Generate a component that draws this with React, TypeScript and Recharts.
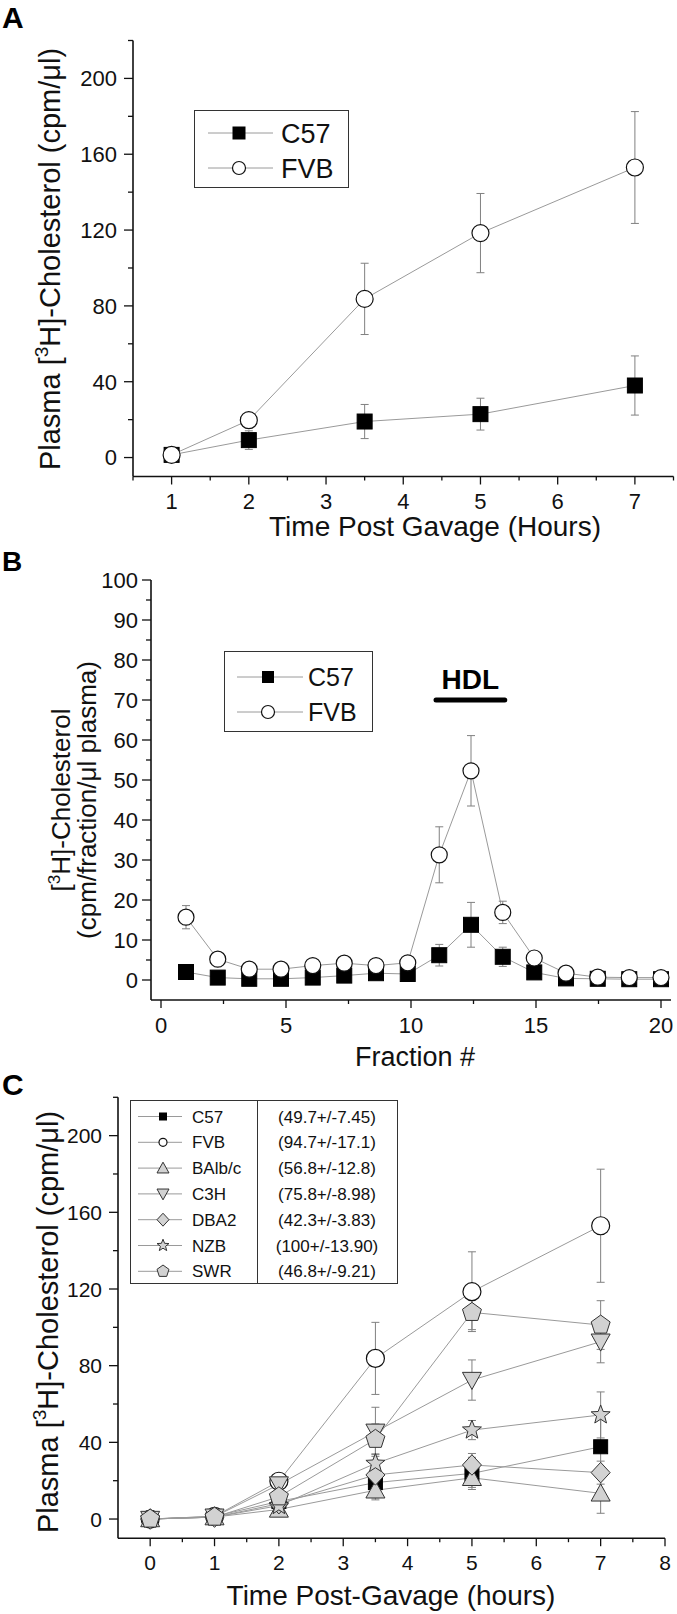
import React from "react";
import { LineChart, Line, XAxis, YAxis, ErrorBar, Legend, ReferenceLine } from "recharts";

const FONT = "'Liberation Sans', Arial, Helvetica, sans-serif";
const INK = "#111";
const LINE_GRAY = "#9a9a9a";
const BAR_GRAY = "#808080";
const MARK_GRAY = "#d2d2d2";

// ---- A: plasma [3H]-cholesterol after gavage, C57 vs FVB
const aHours = [1, 2, 3.5, 5, 7];
const aC57 = [1.4, 9.2, 19, 22.9, 38];
const aC57Err = [1, 4.9, 9, 8.4, 15.6];
const aFVB = [1.4, 19.7, 83.7, 118.4, 153];
const aFVBErr = [1.5, 2, 18.8, 20.9, 29.5];
const aXTicks = [0.5, 1, 1.5, 2, 2.5, 3, 3.5, 4, 4.5, 5, 5.5, 6, 6.5, 7, 7.5];
const aXLabels = [1, 2, 3, 4, 5, 6, 7];
const aYTicks = [0, 20, 40, 60, 80, 100, 120, 140, 160, 180, 200, 220];
const aYLabels = [0, 40, 80, 120, 160, 200];

// ---- B: FPLC fractions
const bFraction = [1, 2.27, 3.53, 4.8, 6.07, 7.33, 8.6, 9.87, 11.13, 12.4, 13.67, 14.93, 16.2, 17.47, 18.73, 20];
const bC57 = [2, 0.6, 0.3, 0.3, 0.6, 1.1, 1.7, 1.5, 6.2, 13.8, 5.8, 1.9, 0.4, 0.3, 0.2, 0.2];
const bC57Err = [0.3, 0.3, 0.3, 0.3, 0.3, 0.3, 0.3, 0.3, 2.7, 5.6, 2.4, 0.4, 0.3, 0.3, 0.3, 0.3];
const bFVB = [15.7, 5.2, 2.7, 2.7, 3.6, 4.2, 3.6, 4.3, 31.3, 52.3, 16.9, 5.5, 1.7, 0.7, 0.6, 0.6];
const bFVBErr = [2.9, 1.4, 1, 1, 1, 1, 1, 1, 7, 8.8, 2.8, 1.3, 0.8, 0.5, 0.5, 0.5];
const bXTicks = [0, 2.5, 5, 7.5, 10, 12.5, 15, 17.5, 20];
const bXLabels = [0, 5, 10, 15, 20];
const bYTicks = [0, 5, 10, 15, 20, 25, 30, 35, 40, 45, 50, 55, 60, 65, 70, 75, 80, 85, 90, 95, 100];
const bYLabels = [0, 10, 20, 30, 40, 50, 60, 70, 80, 90, 100];
const hdlRange = [11, 13.75];
const hdlLevel = 70;

// ---- C: seven strains
const cHours = [0, 1, 2, 3.5, 5, 7];
const cStrains = ["C57", "FVB", "BAlb/c", "C3H", "DBA2", "NZB", "SWR"];
const cMeans = ["(49.7+/-7.45)", "(94.7+/-17.1)", "(56.8+/-12.8)", "(75.8+/-8.98)", "(42.3+/-3.83)", "(100+/-13.90)", "(46.8+/-9.21)"];
const cC57 = [0, 1.4, 9.2, 19, 23.8, 37.7];
const cFVB = [0, 1.4, 19.7, 83.8, 118.6, 153];
const cBalb = [0, 1, 5, 15, 21.5, 13.4];
const cC3H = [0, 1.2, 18, 45.5, 72.5, 92.5];
const cDBA2 = [0, 1, 8, 23, 28.2, 24.2];
const cNZB = [0, 1, 7, 29, 46.4, 54.3];
const cSWR = [0, 1, 11.6, 41.6, 107.8, 101.2];
const cC57Err = [0.5, 1, 4.9, 9, 8.4, 15.6];
const cFVBErr = [0.5, 1.5, 2, 18.8, 20.8, 29.5];
const cBalbErr = [0.5, 0.8, 2, 4, 5, 10.4];
const cC3HErr = [0.5, 1, 3, 12.8, 10.5, 11];
const cDBA2Err = [0.5, 1, 2, 5, 6, 6];
const cNZBErr = [0.5, 1, 2, 5, 5, 12];
const cSWRErr = [0.5, 1, 3, 8, 9, 12.7];
const cXTicks = [0, 0.5, 1, 1.5, 2, 2.5, 3, 3.5, 4, 4.5, 5, 5.5, 6, 6.5, 7, 7.5, 8];
const cXLabels = [0, 1, 2, 3, 4, 5, 6, 7, 8];

type Shape = "square" | "circle" | "triangle" | "triangleDown" | "diamond" | "star" | "pentagon";
interface Mark { shape: Shape; size: number; fill: string; stroke: string; sw: number }

function polyPoints(shape: Shape, cx: number, cy: number, s: number) {
  const r = s / 2;
  if (shape === "triangle" || shape === "triangleDown") {
    const h = s * 0.9;
    const k = shape === "triangle" ? 1 : -1;
    return `${cx},${cy - k * h * 0.55} ${cx + r},${cy + k * h * 0.45} ${cx - r},${cy + k * h * 0.45}`;
  }
  if (shape === "diamond") {
    return `${cx},${cy - r * 1.08} ${cx + r},${cy} ${cx},${cy + r * 1.08} ${cx - r},${cy}`;
  }
  const n = shape === "star" ? 10 : 5;
  const pts: string[] = [];
  for (let i = 0; i < n; i++) {
    const a = -Math.PI / 2 + (i * 2 * Math.PI) / n;
    const rr = shape === "star" && i % 2 ? r * 0.45 : r * 1.05;
    pts.push(`${cx + rr * Math.cos(a)},${cy + rr * Math.sin(a)}`);
  }
  return pts.join(" ");
}

function drawMark(m: Mark, cx: number, cy: number, key?: string | number, size?: number) {
  const s = size ?? m.size;
  if (m.shape === "square")
    return <rect key={key} x={cx - s / 2} y={cy - s / 2} width={s} height={s} fill={m.fill} stroke={m.stroke} strokeWidth={m.sw} />;
  if (m.shape === "circle")
    return <circle key={key} cx={cx} cy={cy} r={s / 2} fill={m.fill} stroke={m.stroke} strokeWidth={m.sw} />;
  return <polygon key={key} points={polyPoints(m.shape, cx, cy, s)} fill={m.fill} stroke={m.stroke} strokeWidth={m.sw} />;
}

const dotOf = (m: Mark) => (p: any) => {
  if (!Number.isFinite(p.cx) || !Number.isFinite(p.cy)) return <g key={`n${p.index}`} />;
  return drawMark(m, p.cx, p.cy, `d${p.index}`);
};

const yTick = (labels: number[], gap: number, fs: number) => (p: any) => {
  const major = labels.includes(p.payload.value);
  return (
    <g>
      <line x1={p.x - (major ? 9 : 5)} x2={p.x} y1={p.y} y2={p.y} stroke={INK} strokeWidth={1.3} />
      {major && (
        <text x={p.x - gap} y={p.y + fs * 0.36} textAnchor="end" fontSize={fs} fontFamily={FONT} fill={INK}>
          {p.payload.value}
        </text>
      )}
    </g>
  );
};

const xTick = (labels: number[], base: number, fs: number) => (p: any) => {
  const major = labels.includes(p.payload.value);
  return (
    <g>
      <line x1={p.x} x2={p.x} y1={p.y} y2={p.y + (major ? 8 : 4)} stroke={INK} strokeWidth={1.3} />
      {major && (
        <text x={p.x} y={p.y + base} textAnchor="middle" fontSize={fs} fontFamily={FONT} fill={INK}>
          {p.payload.value}
        </text>
      )}
    </g>
  );
};

interface LegendRow { label: string; mark: Mark; value?: string }

function LegendBox(props: {
  w: number; h: number; rows: LegendRow[]; y0: number; dy: number;
  line: [number, number]; markX: number; markSize: number[]; textX: number; fs: number;
  divider?: number; valueX?: number;
}) {
  const { w, h, rows, y0, dy, line, markX, markSize, textX, fs, divider, valueX } = props;
  return (
    <svg width={w} height={h} style={{ display: "block" }} fontFamily={FONT}>
      <rect x={0.5} y={0.5} width={w - 1} height={h - 1} fill="#fff" stroke="#333" strokeWidth={1} />
      {divider != null && <line x1={divider} x2={divider} y1={0} y2={h} stroke="#333" strokeWidth={1} />}
      {rows.map((r, i) => {
        const y = y0 + i * dy;
        return (
          <g key={r.label}>
            <line x1={line[0]} x2={line[1]} y1={y} y2={y} stroke={LINE_GRAY} strokeWidth={1} />
            {drawMark(r.mark, markX, y, "m", markSize[i])}
            <text x={textX} y={y + fs * 0.36} fontSize={fs} fill={INK}>{r.label}</text>
            {r.value && valueX != null && (
              <text x={valueX} y={y + fs * 0.36} fontSize={fs} fill={INK} textAnchor="middle">{r.value}</text>
            )}
          </g>
        );
      })}
    </svg>
  );
}

const sqMark: Mark = { shape: "square", size: 15, fill: "#000", stroke: "#000", sw: 1 };
const ciMark: Mark = { shape: "circle", size: 17, fill: "#fff", stroke: "#111", sw: 1.2 };
const grey = (shape: Shape): Mark => ({ shape, size: 19, fill: MARK_GRAY, stroke: "#333", sw: 1 });
const cMarks: Mark[] = [
  { ...sqMark, size: 14 },
  { ...ciMark, size: 18 },
  grey("triangle"),
  grey("triangleDown"),
  grey("diamond"),
  grey("star"),
  grey("pentagon"),
];
const cValues = [cC57, cFVB, cBalb, cC3H, cDBA2, cNZB, cSWR];
const cErrs = [cC57Err, cFVBErr, cBalbErr, cC3HErr, cDBA2Err, cNZBErr, cSWRErr];

const aRows = aHours.map((t, i) => ({ t, c57: aC57[i], c57Err: aC57Err[i], fvb: aFVB[i], fvbErr: aFVBErr[i] }));
const bRows = bFraction.map((t, i) => ({ t, c57: bC57[i], c57Err: bC57Err[i], fvb: bFVB[i], fvbErr: bFVBErr[i] }));
const cRows = cHours.map((t, i) => {
  const row: Record<string, number> = { t };
  cValues.forEach((v, k) => {
    row[`s${k}`] = v[i];
    row[`e${k}`] = cErrs[k][i];
  });
  return row;
});

const axisLine = { stroke: INK, strokeWidth: 1.6 };

function Cholesterol({ x, y, fs }: { x: number; y: number; fs: number }) {
  return (
    <text transform={`translate(${x},${y}) rotate(-90)`} textAnchor="middle" fontSize={fs} fill={INK}>
      Plasma [<tspan fontSize={fs * 0.66} dy={-fs * 0.4}>3</tspan>
      <tspan dy={fs * 0.4}>H]-Cholesterol (cpm/μl)</tspan>
    </text>
  );
}

const overlayStyle: React.CSSProperties = { position: "absolute", left: 0, top: 0, pointerEvents: "none", overflow: "visible" };

const A_TOP = 0, A_H = 545;
const B_TOP = 545, B_H = 530;
const C_TOP = 1065, C_H = 549;

export default function App() {
  return (
    <div style={{ position: "absolute", left: 0, top: 0, width: 677, height: 1614, background: "#fff", fontFamily: FONT }}>
      {/* A */}
      <div style={{ position: "absolute", left: 0, top: A_TOP, width: 677, height: A_H }}>
        <LineChart width={677} height={A_H} data={aRows} margin={{ top: 40.5, right: 3.5, bottom: 28.5, left: 0 }}>
          <XAxis dataKey="t" type="number" domain={[0.5, 7.5]} ticks={aXTicks} interval={0} allowDataOverflow
            height={40} tickSize={0} tickMargin={0} tickLine={false} axisLine={axisLine} tick={xTick(aXLabels, 32, 22)} />
          <YAxis type="number" domain={[-10, 220]} ticks={aYTicks} interval={0} allowDataOverflow
            width={133} tickSize={0} tickMargin={0} tickLine={false} axisLine={axisLine} tick={yTick(aYLabels, 16, 22)} />
          <Line dataKey="c57" stroke={LINE_GRAY} strokeWidth={1} dot={dotOf(sqMark)} activeDot={false} isAnimationActive={false} />
          <Line dataKey="fvb" stroke={LINE_GRAY} strokeWidth={1} dot={dotOf(ciMark)} activeDot={false} isAnimationActive={false} />
          <Line dataKey="c57" name="c57-err" stroke="none" dot={false} activeDot={false} isAnimationActive={false}>
            <ErrorBar dataKey="c57Err" width={4} stroke={BAR_GRAY} strokeWidth={1} direction="y" />
          </Line>
          <Line dataKey="fvb" name="fvb-err" stroke="none" dot={false} activeDot={false} isAnimationActive={false}>
            <ErrorBar dataKey="fvbErr" width={4} stroke={BAR_GRAY} strokeWidth={1} direction="y" />
          </Line>
          <Legend layout="vertical" align="center" verticalAlign="middle"
            wrapperStyle={{ left: 194, top: 110, width: 155, height: 78 }}
            content={() => (
              <LegendBox w={155} h={78} y0={23} dy={35} line={[14, 79]} markX={45} markSize={[12, 13]} textX={87} fs={27}
                rows={[{ label: "C57", mark: sqMark }, { label: "FVB", mark: ciMark }]} />
            )} />
        </LineChart>
        <svg width={677} height={A_H} style={overlayStyle} fontFamily={FONT}>
          <text x={2} y={28} fontSize={30} fontWeight="bold" fill="#000">A</text>
          <Cholesterol x={60} y={259} fs={29} />
          <text x={435} y={536} textAnchor="middle" fontSize={28} fill={INK}>Time Post Gavage (Hours)</text>
        </svg>
      </div>

      {/* B */}
      <div style={{ position: "absolute", left: 0, top: B_TOP, width: 677, height: B_H }}>
        <LineChart width={677} height={B_H} data={bRows} margin={{ top: 35, right: 6, bottom: 35, left: 0 }}>
          <XAxis dataKey="t" type="number" domain={[-0.4, 20.4]} ticks={bXTicks} interval={0} allowDataOverflow
            height={40} tickSize={0} tickMargin={0} tickLine={false} axisLine={axisLine} tick={xTick(bXLabels, 33, 22)} />
          <YAxis type="number" domain={[-5, 100]} ticks={bYTicks} interval={0} allowDataOverflow
            width={151} tickSize={0} tickMargin={0} tickLine={false} axisLine={axisLine} tick={yTick(bYLabels, 13, 22)} />
          <ReferenceLine segment={[{ x: hdlRange[0], y: hdlLevel }, { x: hdlRange[1], y: hdlLevel }]}
            stroke="#000" strokeWidth={5} strokeLinecap="round"
            label={{ value: "HDL", position: "top", offset: 11, fontSize: 28, fontWeight: "bold", fill: "#000", fontFamily: FONT }} />
          <Line dataKey="c57" stroke={LINE_GRAY} strokeWidth={1} dot={dotOf(sqMark)} activeDot={false} isAnimationActive={false} />
          <Line dataKey="fvb" stroke={LINE_GRAY} strokeWidth={1} dot={dotOf({ ...ciMark, size: 16 })} activeDot={false} isAnimationActive={false} />
          <Line dataKey="c57" name="c57-err" stroke="none" dot={false} activeDot={false} isAnimationActive={false}>
            <ErrorBar dataKey="c57Err" width={4} stroke={BAR_GRAY} strokeWidth={1} direction="y" />
          </Line>
          <Line dataKey="fvb" name="fvb-err" stroke="none" dot={false} activeDot={false} isAnimationActive={false}>
            <ErrorBar dataKey="fvbErr" width={4} stroke={BAR_GRAY} strokeWidth={1} direction="y" />
          </Line>
          <Legend layout="vertical" align="center" verticalAlign="middle"
            wrapperStyle={{ left: 224, top: 106, width: 149, height: 81 }}
            content={() => (
              <LegendBox w={149} h={81} y0={26} dy={35} line={[13, 79]} markX={44} markSize={[11, 13]} textX={84} fs={25}
                rows={[{ label: "C57", mark: sqMark }, { label: "FVB", mark: ciMark }]} />
            )} />
        </LineChart>
        <svg width={677} height={B_H} style={overlayStyle} fontFamily={FONT}>
          <text x={2} y={26} fontSize={28} fontWeight="bold" fill="#000">B</text>
          <text transform="translate(70,255) rotate(-90)" textAnchor="middle" fontSize={26} fill={INK}>
            [<tspan fontSize={17} dy={-10}>3</tspan><tspan dy={10}>H]-Cholesterol</tspan>
          </text>
          <text transform="translate(96,255) rotate(-90)" textAnchor="middle" fontSize={26} fill={INK}>
            (cpm/fraction/μl plasma)
          </text>
          <text x={415} y={521} textAnchor="middle" fontSize={27} fill={INK}>Fraction #</text>
        </svg>
      </div>

      {/* C */}
      <div style={{ position: "absolute", left: 0, top: C_TOP, width: 677, height: C_H }}>
        <LineChart width={677} height={C_H} data={cRows} margin={{ top: 32.3, right: 12, bottom: 35.8, left: 0 }}>
          <XAxis dataKey="t" type="number" domain={[-0.5, 8]} ticks={cXTicks} interval={0} allowDataOverflow
            height={40} tickSize={0} tickMargin={0} tickLine={false} axisLine={axisLine} tick={xTick(cXLabels, 31.5, 21)} />
          <YAxis type="number" domain={[-10, 220]} ticks={aYTicks} interval={0} allowDataOverflow
            width={118} tickSize={0} tickMargin={0} tickLine={false} axisLine={axisLine} tick={yTick(aYLabels, 16, 21)} />
          {cStrains.map((name, k) => (
            <Line key={name} dataKey={`s${k}`} name={name} stroke={LINE_GRAY} strokeWidth={1}
              dot={dotOf(cMarks[k])} activeDot={false} isAnimationActive={false} />
          ))}
          {cStrains.map((name, k) => (
            <Line key={`${name}-err`} dataKey={`s${k}`} name={`${name}-err`} stroke="none" dot={false}
              activeDot={false} isAnimationActive={false}>
              <ErrorBar dataKey={`e${k}`} width={4} stroke={BAR_GRAY} strokeWidth={1} direction="y" />
            </Line>
          ))}
          <Legend layout="vertical" align="center" verticalAlign="middle"
            wrapperStyle={{ left: 130, top: 35, width: 268, height: 184 }}
            content={() => (
              <LegendBox w={268} h={184} y0={16.5} dy={25.8} line={[8, 52]} markX={33}
                markSize={[7, 8, 12, 12, 12, 12, 12]} textX={62} fs={17} divider={127.5} valueX={197}
                rows={cStrains.map((s, k) => ({ label: s, mark: cMarks[k], value: cMeans[k] }))} />
            )} />
        </LineChart>
        <svg width={677} height={C_H} style={overlayStyle} fontFamily={FONT}>
          <text x={2} y={30} fontSize={30} fontWeight="bold" fill="#000">C</text>
          <Cholesterol x={58} y={257} fs={29} />
          <text x={391} y={540} textAnchor="middle" fontSize={28} fill={INK}>Time Post-Gavage (hours)</text>
        </svg>
      </div>
    </div>
  );
}
